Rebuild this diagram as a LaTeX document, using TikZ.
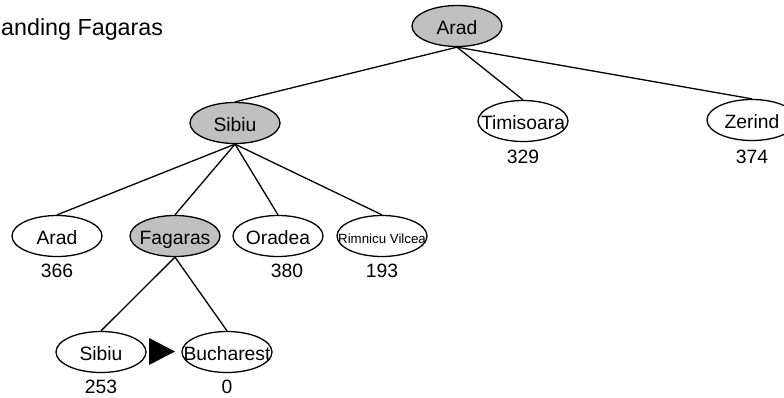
\documentclass[tikz,border=0pt]{standalone}
\usepackage{fontspec}
\setmainfont{Liberation Sans}
\usetikzlibrary{shapes.geometric}
\definecolor{expanded}{HTML}{C0C0C0}
% fixed-size ellipse: the label may run past the outline
\newcommand{\citytext}[1]{\makebox[0pt]{#1}}
\begin{document}
\begin{tikzpicture}[x=1pt,y=-1pt,
  city/.style={ellipse,draw=black,line width=1.3pt,minimum width=90pt,minimum height=41pt,
    inner sep=0pt,font=\fontsize{19.3}{22}\selectfont,fill=white,
    text height=17pt,text depth=0pt},
  done/.style={city,fill=expanded},
  hval/.style={font=\fontsize{19.3}{22}\selectfont,inner sep=0pt,anchor=base},
  link/.style={line width=1.3pt}]
\useasboundingbox (0,0) rectangle (784,397);
% heading
\node[anchor=base west,inner sep=0pt,font=\fontsize{23.3}{26}\selectfont] (title) at (1,35) {anding Fagaras};
% search tree nodes
\node[done] (arad) at (457,26) {\citytext{Arad}};
\node[done] (sibiu) at (235,123) {\citytext{Sibiu}};
\node[city] (timisoara) at (523,121) {\citytext{Timisoara}};
\node[city] (zerind) at (752,120) {\citytext{Zerind}};
\node[city] (arad2) at (57,236) {\citytext{Arad}};
\node[done] (fagaras) at (175,236) {\citytext{Fagaras}};
\node[city] (oradea) at (278,236) {\citytext{Oradea}};
\node[city,font=\fontsize{13.3}{15}\selectfont,text height=14pt] (rimnicu) at (382,236) {\citytext{Rimnicu Vilcea}};
\node[city] (sibiu2) at (101,352) {\citytext{Sibiu}};
\node[city] (bucharest) at (227,352) {\citytext{Bucharest}};
% heuristic values
\node[hval] (h1) at (523,163) {329};
\node[hval] (h2) at (752,163) {374};
\node[hval] (h3) at (57,277) {366};
\node[hval] (h4) at (287,277) {380};
\node[hval] (h5) at (382,277) {193};
\node[hval] (h6) at (101,393) {253};
\node[hval] (h7) at (227,393) {0};
% tree edges
\draw[link] (arad.south) -- (sibiu.north);
\draw[link] (arad.south) -- (timisoara.north);
\draw[link] (arad.south) -- (zerind.north);
\draw[link] (sibiu.south) -- (arad2.north);
\draw[link] (sibiu.south) -- (fagaras.north);
\draw[link] (sibiu.south) -- (oradea.north);
\draw[link] (sibiu.south) -- (rimnicu.north);
\draw[link] (fagaras.south) -- (sibiu2.north);
\draw[link] (fagaras.south) -- (bucharest.north);
% pointer to the chosen successor
\coordinate (p1) at (149,338);
\coordinate (p2) at (175,351.5);
\coordinate (p3) at (149,365);
\fill (p1) -- (p2) -- (p3) -- cycle;
\end{tikzpicture}
\end{document}
